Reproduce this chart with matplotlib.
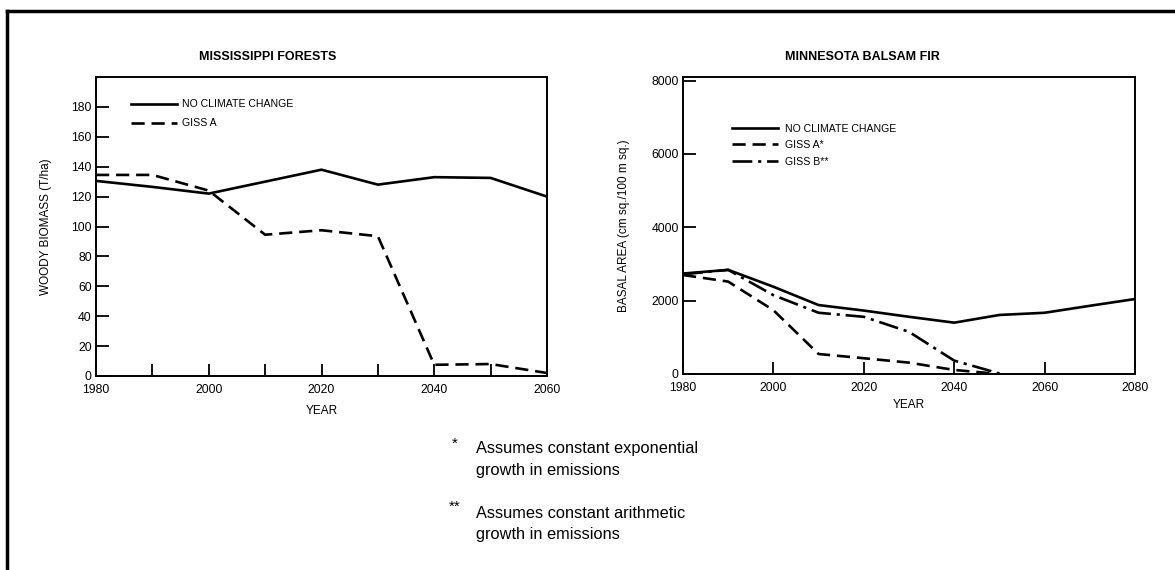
import matplotlib
matplotlib.use("Agg")
import matplotlib.pyplot as plt
from matplotlib.lines import Line2D

plt.rcParams['font.family'] = ['Liberation Sans', 'DejaVu Sans']

# Mississippi forests, woody biomass (T/ha)
ms_years = [1980, 1990, 2000, 2010, 2020, 2030, 2040, 2050, 2060]
ms_no_change = [130.5, 126.5, 122, 130, 138, 128, 133, 132.5, 120]
ms_giss_a = [134.5, 134.5, 124, 94.5, 97.5, 93.5, 7.5, 8, 2]

# Minnesota balsam fir, basal area (cm sq./100 m sq.)
mn_years = [1980, 1990, 2000, 2010, 2020, 2030, 2040, 2050, 2060, 2070, 2080]
mn_no_change = [2740, 2840, 2380, 1880, 1730, 1560, 1400, 1610, 1670, 1860, 2045]
mn_years_ab = [1980, 1990, 2000, 2010, 2020, 2030, 2040, 2050]
mn_giss_a = [2700, 2520, 1740, 545, 430, 310, 110, 0]
mn_giss_b = [2720, 2840, 2150, 1670, 1560, 1150, 365, 15]

fig = plt.figure(figsize=(11.75, 5.7), dpi=100)
W, H = 1175, 570


def px_axes(x0, y0, x1, y1):
    return fig.add_axes([x0 / W, 1 - y1 / H, (x1 - x0) / W, (y1 - y0) / H])


def style_axes(ax):
    for s in ax.spines.values():
        s.set_linewidth(1.4)
    ax.tick_params(axis='y', direction='in', length=9, width=1.3, labelsize=8.8, pad=3)
    ax.tick_params(axis='x', which='both', direction='in', length=9, width=1.3,
                   labelsize=8.8, pad=6)


dash = (5, 2.6)
dashdot = (7.5, 2.2, 1.2, 2.2)
lw = 1.9

# left panel
ax1 = px_axes(96, 77, 547, 376)
ax1.plot(ms_years, ms_no_change, color='black', lw=lw, label='NO CLIMATE CHANGE')
ax1.plot(ms_years, ms_giss_a, color='black', lw=lw, dashes=dash, label='GISS A')
ax1.set_xlim(1980, 2060)
ax1.set_ylim(0, 200)
ax1.set_yticks(range(0, 200, 20))
ax1.set_xticks(range(1980, 2061, 20))
ax1.set_xticks(range(1990, 2060, 20), minor=True)
style_axes(ax1)
ax1.set_ylabel('WOODY BIOMASS (T/ha)', fontsize=8.5, va='center')
ax1.yaxis.set_label_coords((46 - 96) / 451, 0.5)
ax1.set_xlabel('YEAR', fontsize=8.5, va='center')
ax1.xaxis.set_label_coords(0.5, -(411 - 376) / 299)
ax1.legend(loc='upper left', bbox_to_anchor=(0.078, 0.925), frameon=False,
           fontsize=7.6, handlelength=4.3, handletextpad=0.55, labelspacing=0.85,
           borderaxespad=0, borderpad=0)
fig.text(268 / W, 1 - 57 / H, 'MISSISSIPPI FORESTS', ha='center', va='center',
         fontsize=9, fontweight='bold')

# right panel
ax2 = px_axes(683, 77, 1135, 374)
ax2.plot(mn_years, mn_no_change, color='black', lw=lw, label='NO CLIMATE CHANGE')
ax2.plot(mn_years_ab, mn_giss_a, color='black', lw=lw, dashes=dash, label='GISS A*')
ax2.plot(mn_years_ab, mn_giss_b, color='black', lw=lw, dashes=dashdot, label='GISS B**')
ax2.set_xlim(1980, 2080)
ax2.set_ylim(0, 8100)
ax2.set_yticks(range(0, 8001, 2000))
ax2.set_xticks(range(1980, 2081, 20))
style_axes(ax2)
ax2.set_ylabel('BASAL AREA (cm sq./100 m sq.)', fontsize=8.5, va='center')
ax2.yaxis.set_label_coords((624 - 683) / 452, 0.5)
ax2.set_xlabel('YEAR', fontsize=8.5, va='center')
ax2.xaxis.set_label_coords(0.5, -(405 - 374) / 297)
ax2.legend(loc='upper left', bbox_to_anchor=(0.108, 0.843), frameon=False,
           fontsize=7.6, handlelength=4.4, handletextpad=0.6, labelspacing=0.62,
           borderaxespad=0, borderpad=0)
fig.text(862 / W, 1 - 57 / H, 'MINNESOTA BALSAM FIR', ha='center', va='center',
         fontsize=9, fontweight='bold')

# footnotes
note_x = 476 / W
fig.text(455 / W, 1 - 444 / H, '*', ha='center', va='center', fontsize=11)
fig.text(note_x, 1 - 449 / H, 'Assumes constant exponential', va='center', fontsize=11.8)
fig.text(note_x, 1 - 470 / H, 'growth in emissions', va='center', fontsize=11.8)
fig.text(455 / W, 1 - 507 / H, '**', ha='center', va='center', fontsize=11)
fig.text(note_x, 1 - 513 / H, 'Assumes constant arithmetic', va='center', fontsize=11.8)
fig.text(note_x, 1 - 534 / H, 'growth in emissions', va='center', fontsize=11.8)

# page rule along top and left edges
fig.add_artist(Line2D([7 / W, 1], [1 - 11 / H, 1 - 11 / H], color='black', lw=2.5))
fig.add_artist(Line2D([7 / W, 7 / W], [0, 1 - 11 / H], color='black', lw=2.5))

fig.savefig('out.png', dpi=100)
